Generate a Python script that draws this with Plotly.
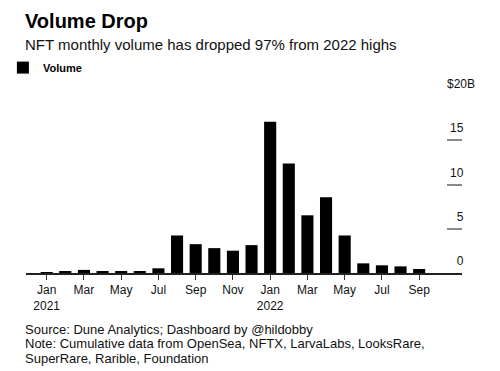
import plotly.graph_objects as go

months = ["2021-01", "2021-02", "2021-03", "2021-04", "2021-05", "2021-06",
          "2021-07", "2021-08", "2021-09", "2021-10", "2021-11", "2021-12",
          "2022-01", "2022-02", "2022-03", "2022-04", "2022-05", "2022-06",
          "2022-07", "2022-08", "2022-09"]
volume_b = [0.05, 0.2, 0.35, 0.2, 0.2, 0.2,
            0.53, 4.24, 3.26, 2.81, 2.52, 3.15,
            17.1, 12.37, 6.52, 8.55, 4.24, 1.09,
            0.87, 0.75, 0.45]
x_tickvals = ["2021-01", "2021-03", "2021-05", "2021-07", "2021-09", "2021-11",
              "2022-01", "2022-03", "2022-05", "2022-07", "2022-09"]
x_ticktext = ["Jan<br>2021", "Mar", "May", "Jul", "Sep", "Nov",
              "Jan<br>2022", "Mar", "May", "Jul", "Sep"]
y_tickvals = [0, 5, 10, 15, 20]
y_ticktext = ["0", "5", "10", "15", ""]

FONT = "Liberation Sans, Arial, Helvetica, sans-serif"

fig = go.Figure()
fig.add_trace(go.Bar(x=months, y=volume_b, name="Volume",
                     marker=dict(color="#000000", line=dict(width=0)),
                     showlegend=True))
# empty trace so the overlaying label axis is drawn
fig.add_trace(go.Bar(x=[], y=[], yaxis="y2", showlegend=False, hoverinfo="skip"))

# plot area geometry
W, H = 500, 371
ml, mr, mt, mb = 26, 38.3, 95.7, 98.3
plot_h = H - mt - mb
zero_px = H - mb


def py(p):
    return (zero_px - p) / plot_h


fig.update_layout(
    width=W, height=H,
    margin=dict(l=ml, r=mr, t=mt, b=mb, pad=0, autoexpand=False),
    paper_bgcolor="white", plot_bgcolor="white",
    font=dict(family=FONT, color="#111111", size=12),
    bargap=0.35,
    barmode="overlay",
    showlegend=True,
    legend=dict(x=-0.053, xanchor="left", y=py(67.3), yanchor="middle",
                font=dict(size=11, color="#000000", family=FONT, weight="bold"),
                bgcolor="rgba(0,0,0,0)", borderwidth=0),
    xaxis=dict(type="category", range=[-1.11, 22.3],
               tickmode="array", tickvals=x_tickvals, ticktext=x_ticktext,
               ticks="outside", ticklen=5, tickwidth=1, tickcolor="#333333",
               showline=True, linecolor="#222222", linewidth=1.5,
               showgrid=False, zeroline=False,
               tickfont=dict(size=12, color="#111111")),
    yaxis=dict(range=[0, 20], side="right",
               tickmode="array", tickvals=y_tickvals, ticktext=y_ticktext,
               ticks="inside", ticklen=15, tickwidth=1.5, tickcolor="#8a8a8a",
               ticklabelposition="inside", ticklabelstandoff=-17,
               ticklabelshift=-12, ticklabeloverflow="allow",
               showline=False, showgrid=False, zeroline=False,
               tickfont=dict(size=12, color="#111111")),
    yaxis2=dict(range=[0, 20], side="right", overlaying="y",
                tickmode="array", tickvals=[20], ticktext=["$20B"],
                ticks="", ticklabelposition="inside", ticklabelstandoff=-16,
                ticklabelshift=-12, ticklabeloverflow="allow",
                showline=False, showgrid=False, zeroline=False,
                tickfont=dict(size=12, color="#111111")),
)

annos = [
    dict(text="<b>Volume Drop</b>", y=py(20.5), size=20, color="#000000"),
    dict(text="NFT monthly volume has dropped 97% from 2022 highs", y=py(44.5), size=15, color="#111111"),
    dict(text="Source: Dune Analytics; Dashboard by @hildobby", y=py(329.3), size=13, color="#111111"),
    dict(text="Note: Cumulative data from OpenSea, NFTX, LarvaLabs, LooksRare,", y=py(343.6), size=13, color="#111111"),
    dict(text="SuperRare, Rarible, Foundation", y=py(357.9), size=13, color="#111111"),
]
for a in annos:
    fig.add_annotation(text=a["text"], xref="paper", yref="paper", x=0, y=a["y"],
                       xanchor="left", yanchor="middle", showarrow=False, xshift=-3,
                       font=dict(size=a["size"], color=a["color"], family=FONT))

fig.write_html("out.html", config={"displayModeBar": False},
               post_script="document.body.style.margin='0';")
